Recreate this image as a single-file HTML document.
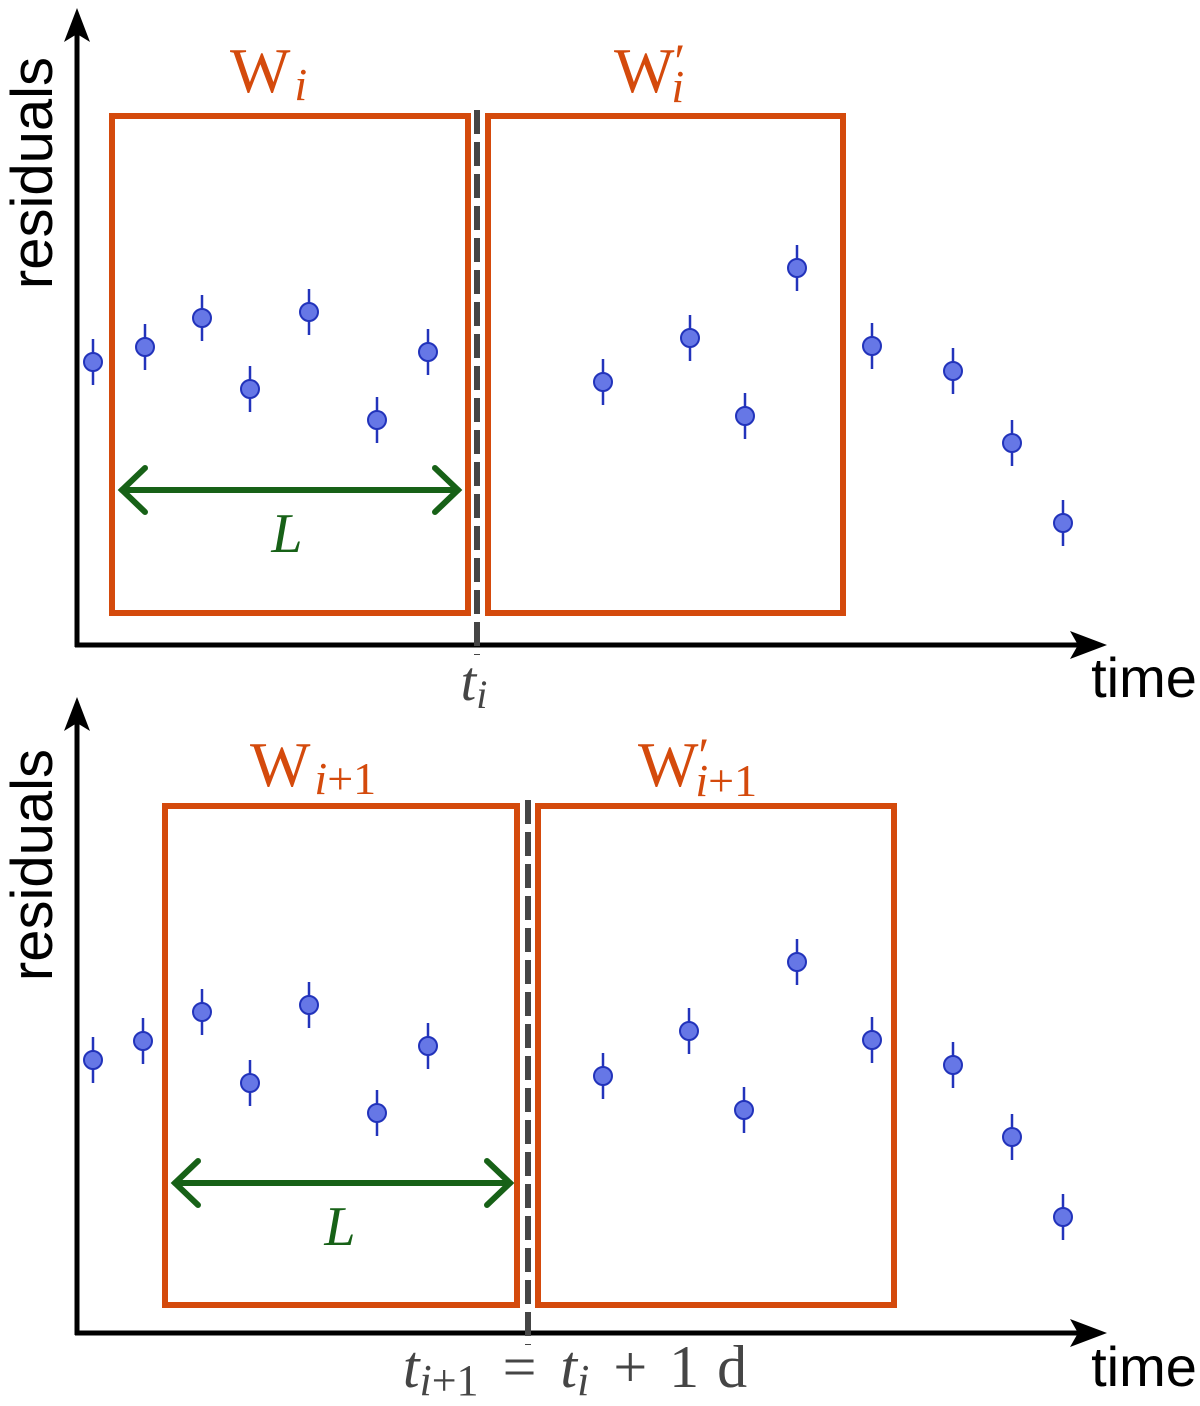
<!DOCTYPE html>
<html><head><style>html,body{margin:0;padding:0;background:#fff}</style></head>
<body>
<svg width="1200" height="1401" viewBox="0 0 1200 1401" xmlns="http://www.w3.org/2000/svg">
<defs>
<g id="pt"><line x1="0" y1="-23" x2="0" y2="23" stroke="#2233bb" stroke-width="2.5"/><circle r="9" fill="#6677e6" stroke="#2233bb" stroke-width="2"/></g>
</defs>
<g stroke="#000" stroke-width="5" fill="none">
<line x1="77" y1="30" x2="77" y2="647"/>
<line x1="75" y1="645" x2="1085" y2="645"/>
</g>
<polygon points="77,8 64,42 77,34 90,42" fill="#000"/>
<polygon points="1107,645 1070,631 1078,645 1070,659" fill="#000"/>
<rect x="112" y="116" width="356" height="497" fill="none" stroke="#d44a0c" stroke-width="6"/>
<rect x="488" y="116" width="355" height="497" fill="none" stroke="#d44a0c" stroke-width="6"/>
<line x1="477" y1="110" x2="477" y2="655" stroke="#454545" stroke-width="6" stroke-dasharray="24,8"/>
<g>
<use href="#pt" x="93" y="362"/><use href="#pt" x="145" y="347"/><use href="#pt" x="202" y="318"/><use href="#pt" x="250" y="389"/><use href="#pt" x="309" y="312"/><use href="#pt" x="377" y="420"/><use href="#pt" x="428" y="352"/><use href="#pt" x="603" y="382"/><use href="#pt" x="690" y="338"/><use href="#pt" x="745" y="416"/><use href="#pt" x="797" y="268"/><use href="#pt" x="872" y="346"/><use href="#pt" x="953" y="371"/><use href="#pt" x="1012" y="443"/><use href="#pt" x="1063" y="523"/>
</g>
<g stroke="#176117" stroke-width="6" fill="none" stroke-linecap="round">
<line x1="122" y1="490" x2="458" y2="490"/>
<polyline points="145,468 122,490 145,512"/>
<polyline points="435,468 458,490 435,512"/>
</g>
<text x="287" y="552" font-family="Liberation Serif, serif" font-style="italic" font-size="56" fill="#176117" text-anchor="middle">L</text>
<text x="230" y="92" font-family="Liberation Serif, serif" font-size="64" fill="#d44a0c">W<tspan font-style="italic" font-size="46" dx="4" dy="8">i</tspan></text>
<text x="614" y="92" font-family="Liberation Serif, serif" font-size="64" fill="#d44a0c">W<tspan font-size="50" dy="-14">′</tspan><tspan font-style="italic" font-size="46" dx="-14" dy="24">i</tspan></text>
<text x="474" y="700" font-family="Liberation Serif, serif" font-style="italic" font-size="56" fill="#454545" text-anchor="middle">t<tspan font-size="40" dy="8">i</tspan></text>
<text x="1144" y="697" font-family="Liberation Sans, sans-serif" font-size="56" fill="#000" text-anchor="middle">time</text>
<text transform="translate(52,173) rotate(-90)" font-family="Liberation Sans, sans-serif" font-size="58" fill="#000" text-anchor="middle">residuals</text>

<g stroke="#000" stroke-width="5" fill="none">
<line x1="77" y1="720" x2="77" y2="1335"/>
<line x1="75" y1="1333" x2="1085" y2="1333"/>
</g>
<polygon points="77,697 64,731 77,723 90,731" fill="#000"/>
<polygon points="1107,1333 1070,1319 1078,1333 1070,1347" fill="#000"/>
<rect x="165" y="806" width="352" height="499" fill="none" stroke="#d44a0c" stroke-width="6"/>
<rect x="538" y="806" width="356" height="499" fill="none" stroke="#d44a0c" stroke-width="6"/>
<line x1="528" y1="800" x2="528" y2="1345" stroke="#454545" stroke-width="6" stroke-dasharray="24,8"/>
<g>
<use href="#pt" x="93" y="1060"/><use href="#pt" x="143" y="1041"/><use href="#pt" x="202" y="1012"/><use href="#pt" x="250" y="1083"/><use href="#pt" x="309" y="1005"/><use href="#pt" x="377" y="1113"/><use href="#pt" x="428" y="1046"/><use href="#pt" x="603" y="1076"/><use href="#pt" x="689" y="1031"/><use href="#pt" x="744" y="1110"/><use href="#pt" x="797" y="962"/><use href="#pt" x="872" y="1040"/><use href="#pt" x="953" y="1065"/><use href="#pt" x="1012" y="1137"/><use href="#pt" x="1063" y="1217"/>
</g>
<g stroke="#176117" stroke-width="6" fill="none" stroke-linecap="round">
<line x1="175" y1="1183" x2="510" y2="1183"/>
<polyline points="198,1161 175,1183 198,1205"/>
<polyline points="487,1161 510,1183 487,1205"/>
</g>
<text x="340" y="1245" font-family="Liberation Serif, serif" font-style="italic" font-size="56" fill="#176117" text-anchor="middle">L</text>
<text x="250" y="786" font-family="Liberation Serif, serif" font-size="64" fill="#d44a0c">W<tspan font-style="italic" font-size="46" dx="4" dy="8">i</tspan><tspan font-size="46">+1</tspan></text>
<text x="638" y="786" font-family="Liberation Serif, serif" font-size="64" fill="#d44a0c">W<tspan font-size="50" dy="-14">′</tspan><tspan font-style="italic" font-size="46" dx="-14" dy="24">i</tspan><tspan font-size="46">+1</tspan></text>
<text x="575" y="1387" font-family="Liberation Serif, serif" font-size="60" fill="#454545" text-anchor="middle"><tspan font-style="italic">t</tspan><tspan font-style="italic" font-size="44" dy="8">i</tspan><tspan font-size="44">+1</tspan><tspan dy="-8" dx="24">=</tspan><tspan font-style="italic" dx="24">t</tspan><tspan font-style="italic" font-size="44" dy="8">i</tspan><tspan dy="-8" dx="24">+</tspan><tspan dx="22">1</tspan><tspan dx="18">d</tspan></text>
<text x="1144" y="1386" font-family="Liberation Sans, sans-serif" font-size="56" fill="#000" text-anchor="middle">time</text>
<text transform="translate(52,865) rotate(-90)" font-family="Liberation Sans, sans-serif" font-size="58" fill="#000" text-anchor="middle">residuals</text>
</svg>
</body></html>
